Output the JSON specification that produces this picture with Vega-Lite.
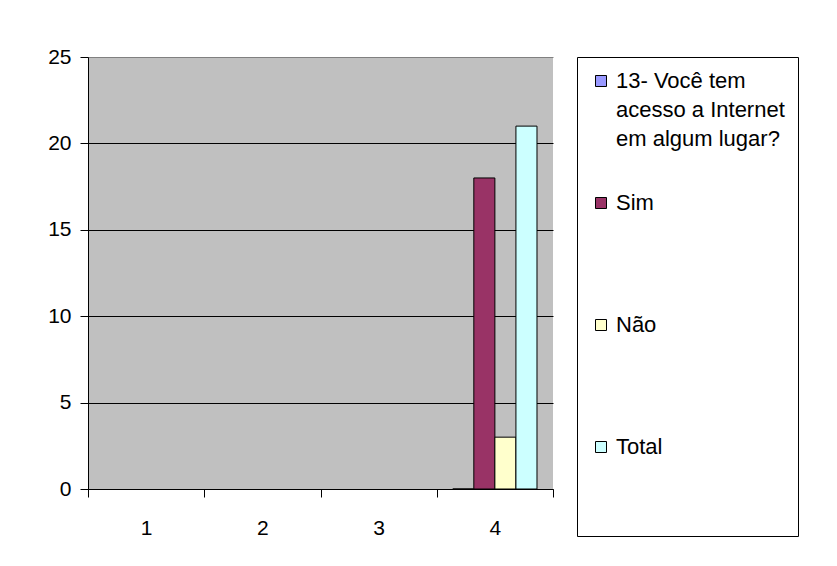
{
  "$schema": "https://vega.github.io/schema/vega-lite/v6.json",
  "width": 465,
  "height": 432,
  "autosize": {"type": "none"},
  "padding": {"left": 88, "top": 57, "right": 284, "bottom": 77},
  "background": "white",
  "data": {
    "values": [
      {"grupo": "4", "serie": "13- Você tem acesso a Internet em algum lugar?", "valor": 0},
      {"grupo": "4", "serie": "Sim", "valor": 18},
      {"grupo": "4", "serie": "Não", "valor": 3},
      {"grupo": "4", "serie": "Total", "valor": 21}
    ]
  },
  "mark": {"type": "bar", "stroke": "black", "strokeWidth": 1},
  "encoding": {
    "x": {
      "field": "grupo",
      "type": "nominal",
      "scale": {"domain": ["1", "2", "3", "4"], "paddingInner": 0, "paddingOuter": 0},
      "axis": {
        "title": null,
        "labelAngle": 0,
        "tickBand": "extent",
        "tickSize": 8,
        "labelPadding": 20,
        "labelFont": "Liberation Sans",
        "labelFontSize": 21,
        "labelColor": "black",
        "tickColor": "black",
        "domainColor": "black",
        "grid": false
      }
    },
    "xOffset": {
      "field": "serie",
      "type": "nominal",
      "scale": {"domain": ["13- Você tem acesso a Internet em algum lugar?", "Sim", "Não", "Total"], "paddingInner": 0, "paddingOuter": 0.76}
    },
    "y": {
      "field": "valor",
      "type": "quantitative",
      "scale": {"domain": [0, 25], "nice": false},
      "axis": {
        "title": null,
        "values": [0, 5, 10, 15, 20, 25],
        "tickSize": 8,
        "labelPadding": 9,
        "labelFont": "Liberation Sans",
        "labelFontSize": 21,
        "labelColor": "black",
        "tickColor": "black",
        "domainColor": "black",
        "grid": true,
        "gridColor": {"condition": {"test": "datum.value == 25", "value": "#808080"}, "value": "black"},
        "gridOpacity": 1
      }
    },
    "color": {
      "field": "serie",
      "type": "nominal",
      "scale": {
        "domain": ["13- Você tem acesso a Internet em algum lugar?", "Sim", "Não", "Total"],
        "range": ["#9999FF", "#993366", "#FFFFCC", "#CCFFFF"]
      },
      "legend": {
        "title": "\u00a0\u00a0\u00a0\u00a0\u00a0\u00a0\u00a0\u00a0\u00a0\u00a0\u00a0\u00a0\u00a0\u00a0\u00a0\u00a0\u00a0\u00a0\u00a0\u00a0\u00a0\u00a0\u00a0\u00a0\u00a0\u00a0\u00a0\u00a0\u00a0\u00a0\u00a0\u00a0\u00a0\u00a0\u00a0\u00a0\u00a0\u00a0\u00a0\u00a0\u00a0\u00a0\u00a0\u00a0\u00a0\u00a0",
        "titleOrient": "bottom",
        "titlePadding": 44,
        "titleFontSize": 22,
        "titleLimit": 1000,
        "orient": "none",
        "legendX": 489,
        "legendY": 0,
        "strokeColor": "black",
        "fillColor": "white",
        "padding": 13,
        "gridAlign": "all",
        "symbolType": "square",
        "symbolSize": 121,
        "symbolStrokeColor": "black",
        "symbolStrokeWidth": 1,
        "labelFont": "Liberation Sans",
        "labelFontSize": 22,
        "labelColor": "black",
        "labelLimit": 400,
        "labelOffset": 4,
        "rowPadding": 42,
        "labelExpr": "datum.label == '13- Você tem acesso a Internet em algum lugar?' ? ['13- Você tem', 'acesso a Internet', 'em algum lugar?'] : datum.label",
        "encode": {"labels": {"update": {"lineHeight": {"value": 29}}}}
      }
    }
  },
  "config": {
    "view": {"fill": "#C0C0C0", "stroke": null}
  }
}
